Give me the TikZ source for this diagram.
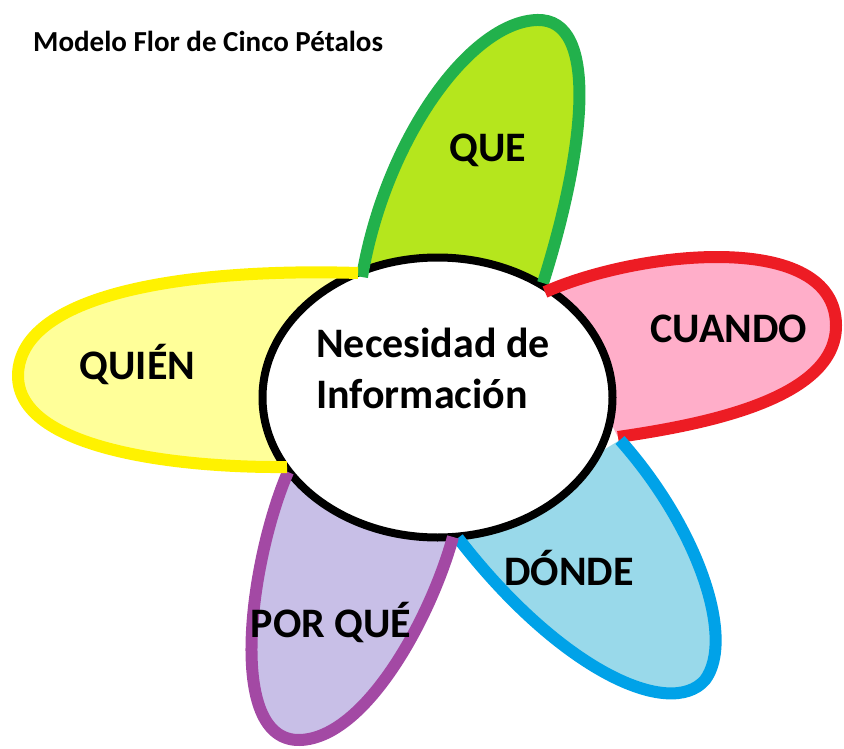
\documentclass[tikz,border=0pt]{standalone}
\usepackage{fontspec}
\setmainfont{Carlito}
\usepackage{tikz}
\usetikzlibrary{positioning}
\definecolor{verde}{HTML}{22B14C}
\definecolor{lima}{HTML}{B5E61D}
\definecolor{rojo}{HTML}{ED1C24}
\definecolor{rosa}{HTML}{FFAEC9}
\definecolor{azul}{HTML}{00A2E8}
\definecolor{celeste}{HTML}{99D9EA}
\definecolor{morado}{HTML}{A349A4}
\definecolor{lila}{HTML}{C8BFE7}
\definecolor{amarillo}{HTML}{FFF200}
\definecolor{crema}{HTML}{FFFF99}
\tikzstyle{borde} = [line width=12pt, line join=round]
\tikzstyle{etiqueta} = [anchor=base, inner sep=0pt, font=\bfseries\fontsize{42}{51}\selectfont]

\begin{document}
\begin{tikzpicture}[x=1pt, y=-1pt]
  \useasboundingbox (0,0) rectangle (844,749);

  % Titulo
  \node[anchor=base west, inner sep=0pt, font=\bfseries\fontsize{29}{34}\selectfont] (titulo) at (33,52) {Modelo Flor de Cinco Pétalos};

  % Rellenos de los pétalos
  \fill[lima] (362,277) .. controls (385,140) and (470,22) .. (537,20) .. controls (600,18) and (585,150) .. (543,283) -- cycle;
  \fill[rosa] (545,292) .. controls (640,250) and (835,230) .. (836,325) .. controls (837,400) and (700,425) .. (618,437) -- cycle;
  \fill[celeste] (620,440) .. controls (700,530) and (735,640) .. (705,680) .. controls (670,720) and (560,670) .. (458,538) -- cycle;
  \fill[lila] (288,472) .. controls (250,560) and (225,742) .. (300,740) .. controls (365,738) and (430,620) .. (453,537) -- cycle;
  \fill[crema] (358,273) .. controls (200,268) and (20,290) .. (18,375) .. controls (17,450) and (180,468) .. (287,467) -- cycle;

  % Centro
  \draw[line width=8pt, fill=white] (437.5,397.5) ellipse [x radius=175, y radius=140];
  \node[anchor=base west, inner sep=0pt, align=left, font=\bfseries\fontsize{42}{51}\selectfont] (centro) at (316,408) {Necesidad de\\Información};

  % Bordes de los pétalos
  \draw[borde, verde] (362,277) .. controls (385,140) and (470,22) .. (537,20) .. controls (600,18) and (585,150) .. (543,283);
  \draw[borde, rojo] (545,292) .. controls (640,250) and (835,230) .. (836,325) .. controls (837,400) and (700,425) .. (618,437);
  \draw[borde, azul] (620,440) .. controls (700,530) and (735,640) .. (705,680) .. controls (670,720) and (560,670) .. (458,538);
  \draw[borde, morado] (288,472) .. controls (250,560) and (225,742) .. (300,740) .. controls (365,738) and (430,620) .. (453,537);
  \draw[borde, amarillo] (358,273) .. controls (200,268) and (20,290) .. (18,375) .. controls (17,450) and (180,468) .. (287,467);

  % Etiquetas
  \node[etiqueta] (que) at (488,162) {QUE};
  \node[etiqueta] (cuando) at (729,342) {CUANDO};
  \node[etiqueta] (quien) at (137.5,379) {QUIÉN};
  \node[etiqueta] (donde) at (569,585) {DÓNDE};
  \node[etiqueta] (porque) at (331,637) {POR QUÉ};
\end{tikzpicture}
\end{document}
